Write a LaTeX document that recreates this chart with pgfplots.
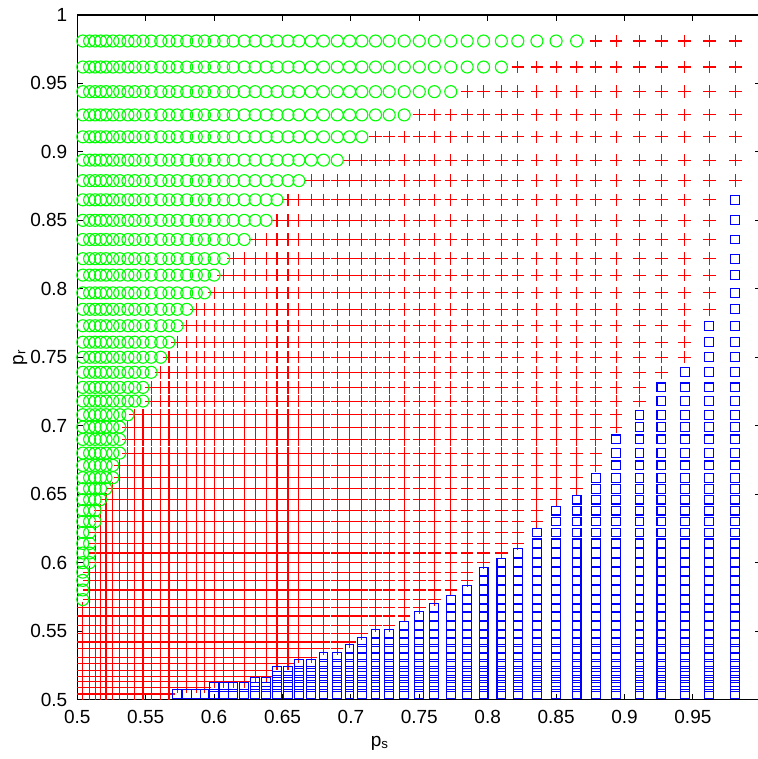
\documentclass[border=0pt]{standalone}
\usepackage{pgfplots}
\pgfplotsset{compat=1.18}
\usepackage{fontspec}
\setmainfont{Liberation Sans}

% grid of p values (same for p_s and p_r)
\def\gridvals{0.504,0.509,0.513,0.517,0.521,0.526,0.531,0.537,0.542,0.548,0.554,0.561,0.567,0.573,0.580,0.587,0.593,0.600,0.607,0.614,0.622,0.630,0.638,0.646,0.654,0.662,0.671,0.680,0.690,0.699,0.708,0.718,0.728,0.739,0.750,0.761,0.773,0.785,0.797,0.810,0.822,0.836,0.850,0.865,0.879,0.894,0.911,0.927,0.944,0.962,0.981}
% for each row (bottom to top): index of the last grid column holding a circle
\def\greenlast{0,0,0,0,0,0,0,0,0,0,0,0,0,1,1,1,1,2,2,2,2,3,3,4,5,6,6,7,7,7,8,10,10,11,12,13,14,15,17,18,19,21,23,24,26,29,31,34,37,40,44}
% for each column (left to right): index of the top grid row holding a square
\def\bluetop{0,0,0,0,0,0,0,0,0,0,0,0,0,1,1,1,1,2,2,2,2,3,3,5,5,6,6,7,7,8,9,10,10,11,12,13,14,15,17,18,19,21,23,24,26,29,31,33,34,37,44}

\foreach \v [count=\k] in \gridvals {\expandafter\xdef\csname gv\k\endcsname{\v}}
\foreach \v [count=\k] in \bluetop {\expandafter\xdef\csname bt\k\endcsname{\v}}
\gdef\greenpts{}\gdef\redpts{}\gdef\bluepts{}
\foreach \gl [count=\j] in \greenlast {%
  \foreach \i in {1,...,51} {%
    \edef\px{\csname gv\i\endcsname}%
    \edef\py{\csname gv\j\endcsname}%
    \ifnum\i>\gl\relax
      \ifnum\j>\csname bt\i\endcsname\relax
        \xdef\redpts{\redpts(\px,\py)}%
      \else
        \xdef\bluepts{\bluepts(\px,\py)}%
      \fi
    \else
      \xdef\greenpts{\greenpts(\px,\py)}%
    \fi
  }%
}

\pgfplotsset{
  redmk/.style={only marks, mark=+, mark size=3.1pt, red, mark options={line width=0.55pt}},
  bluemk/.style={only marks, mark=square, mark size=2.2pt, blue, mark options={line width=0.55pt}},
  greenmk/.style={only marks, mark=o, mark size=3.0pt, green, mark options={line width=0.55pt}},
}

\begin{document}
\begin{tikzpicture}
\begin{axis}[
    at={(0,0)}, anchor=south west,
    scale only axis,
    width=342pt, height=342.25pt,
    xmin=0.5, xmax=1, ymin=0.5, ymax=1,
    xtick={0.5,0.55,0.6,0.65,0.7,0.75,0.8,0.85,0.9,0.95,1},
    xticklabels={0.5,0.55,0.6,0.65,0.7,0.75,0.8,0.85,0.9,0.95,},
    ytick={0.5,0.55,0.6,0.65,0.7,0.75,0.8,0.85,0.9,0.95,1},
    yticklabels={0.5,0.55,0.6,0.65,0.7,0.75,0.8,0.85,0.9,0.95,1},
    tick align=inside,
    major tick length=3pt,
    axis line style={line width=0.6pt},
    tick style={line width=0.5pt, black},
    ticklabel style={font=\fontsize{9.5}{11}\selectfont},
    xticklabel style={yshift=-2pt},
    yticklabel style={xshift=-1.5pt},
    xlabel={p\textsubscript{s}},
    ylabel={p\textsubscript{r}},
    label style={font=\fontsize{9.5}{11}\selectfont},
    xlabel style={at={(axis description cs:0.4425,0)}, anchor=north, yshift=-15pt},
    ylabel style={at={(axis description cs:-0.0836,0.5)}, anchor=center},
]
\edef\doplots{%
  \noexpand\addplot[redmk] coordinates {\redpts};%
  \noexpand\addplot[bluemk] coordinates {\bluepts};%
  \noexpand\addplot[greenmk] coordinates {\greenpts};%
}
\doplots
\end{axis}
\pgfresetboundingbox
\useasboundingbox ([shift={(-38.65pt,-29.75pt)}]current axis.south west) rectangle ([shift={(340.35pt,349.75pt)}]current axis.south west);
\end{tikzpicture}
\end{document}
